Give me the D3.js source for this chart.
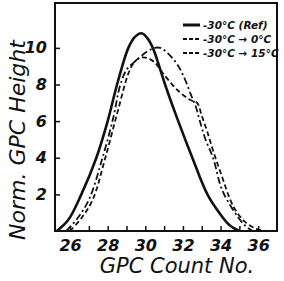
<!DOCTYPE html>
<html>
<head>
<meta charset="utf-8">
<script src="https://cdn.jsdelivr.net/npm/d3@7"></script>
<style>
body { margin: 0; background: white; }
text { font-family: 'DejaVu Sans', sans-serif; font-style: italic; fill: #111; }
</style>
</head>
<body>
<div id="chart"></div>
<script>
var x_ticks = [26, 28, 30, 32, 34, 36];
var y_ticks = [2, 4, 6, 8, 10];
var series_names = ['-30°C (Ref)', '-30°C → 0°C', '-30°C → 15°C'];

var ref_curve = [[25.3,0],[25.9,0.6],[26.6,2.0],[27.4,4.0],[28.0,6.0],[28.5,8.0],[29.1,10.0],[29.45,10.6],
    [29.8,10.8],[30.1,10.55],[30.4,10.0],[30.8,8.8],[31.05,8.0],[31.75,6.0],[32.5,4.0],[33.3,2.0],
    [34.0,0.9],[34.5,0.3],[35.0,0]];
var warm0_curve = [[26.0,0],[26.6,0.7],[27.2,1.7],[27.85,3.9],[28.5,6.4],[29.1,8.6],[29.4,9.2],[29.7,9.45],
    [30.1,9.45],[30.5,9.2],[30.95,8.6],[31.7,7.7],[32.4,7.15],[32.75,7.0],[33.0,6.3],[33.3,5.4],
    [33.6,4.4],[34.0,3.2],[34.7,1.3],[35.3,0.5],[35.9,0.12],[36.4,0]];
var warm15_curve = [[25.8,0],[26.4,0.7],[27.0,1.7],[27.7,3.9],[28.3,6.2],[28.65,7.9],[29.0,8.8],[29.5,9.3],
    [30.1,9.8],[30.5,10.0],[30.8,10.0],[31.2,9.7],[31.7,9.1],[32.1,8.3],[32.4,7.5],[32.65,6.9],
    [32.9,6.0],[33.2,5.0],[33.6,4.0],[34.1,2.2],[34.9,0.8],[35.3,0.3],[35.7,0]];

var styles = [
    {width: 2.6, dash: null},
    {width: 1.8, dash: '5,3'},
    {width: 1.8, dash: '7,3,2,3'}
];

var margin = {left: 55, top: 3, right: 7, bottom: 50};
var W = 284, H = 281;
var svg = d3.select('#chart').append('svg').attr('width', W).attr('height', H);

var x_scale = d3.scaleLinear().domain([25.2, 37]).range([margin.left, W - margin.right]);
var y_scale = d3.scaleLinear().domain([0, 12.45]).range([H - margin.bottom, margin.top]);

// frame
svg.append('rect')
    .attr('x', x_scale.range()[0]).attr('y', y_scale.range()[1])
    .attr('width', x_scale.range()[1] - x_scale.range()[0])
    .attr('height', y_scale.range()[0] - y_scale.range()[1])
    .attr('fill', 'none').attr('stroke', '#111').attr('stroke-width', 2);

// x axis: ticks every unit, labels every two
var x_axis = d3.axisBottom(x_scale).tickValues(d3.range(26, 37, 1))
    .tickSize(-5).tickPadding(9)
    .tickFormat(function(d){ return x_ticks.indexOf(d) >= 0 ? d : ''; });
svg.append('g').attr('class', 'x_axis')
    .attr('transform', 'translate(0,' + y_scale(0) + ')')
    .call(x_axis).call(g => g.select('.domain').remove());

var y_axis = d3.axisLeft(y_scale).tickValues(y_ticks).tickSize(-5).tickPadding(8);
svg.append('g').attr('class', 'y_axis')
    .attr('transform', 'translate(' + x_scale.range()[0] + ',0)')
    .call(y_axis).call(g => g.select('.domain').remove());

d3.selectAll('g.tick>line').attr('stroke', '#111').attr('stroke-width', 1.5);
d3.selectAll('g.tick>text').style('font-size', '16px').style('font-weight', 'bold')
    .style('font-style', 'italic').style('font-family', 'DejaVu Sans');

// curves
var line = d3.line().x(d => x_scale(d[0])).y(d => y_scale(d[1])).curve(d3.curveCatmullRom.alpha(0.5));
[ref_curve, warm0_curve, warm15_curve].forEach(function(c, i){
    svg.append('path').datum(c).attr('d', line)
        .attr('fill', 'none').attr('stroke', '#111')
        .attr('stroke-width', styles[i].width)
        .attr('stroke-dasharray', styles[i].dash);
});

// legend
var legend = svg.append('g').attr('transform', 'translate(183,25)');
series_names.forEach(function(name, i){
    legend.append('line').attr('x1', 0).attr('x2', 17).attr('y1', i * 14).attr('y2', i * 14)
        .attr('stroke', '#111').attr('stroke-width', styles[i].width + 0.4)
        .attr('stroke-dasharray', styles[i].dash ? '4,2' : null);
    legend.append('text').attr('x', 20).attr('y', i * 14 + 4)
        .style('font-size', '10.5px').style('font-weight', 'bold').text(name);
});

// axis titles
svg.append('text').attr('x', 177).attr('y', 273).attr('text-anchor', 'middle')
    .style('font-size', '21px').text('GPC Count No.');
svg.append('text').attr('transform', 'translate(25,140) rotate(-90)').attr('text-anchor', 'middle')
    .style('font-size', '22px').text('Norm. GPC Height');
</script>
</body>
</html>
